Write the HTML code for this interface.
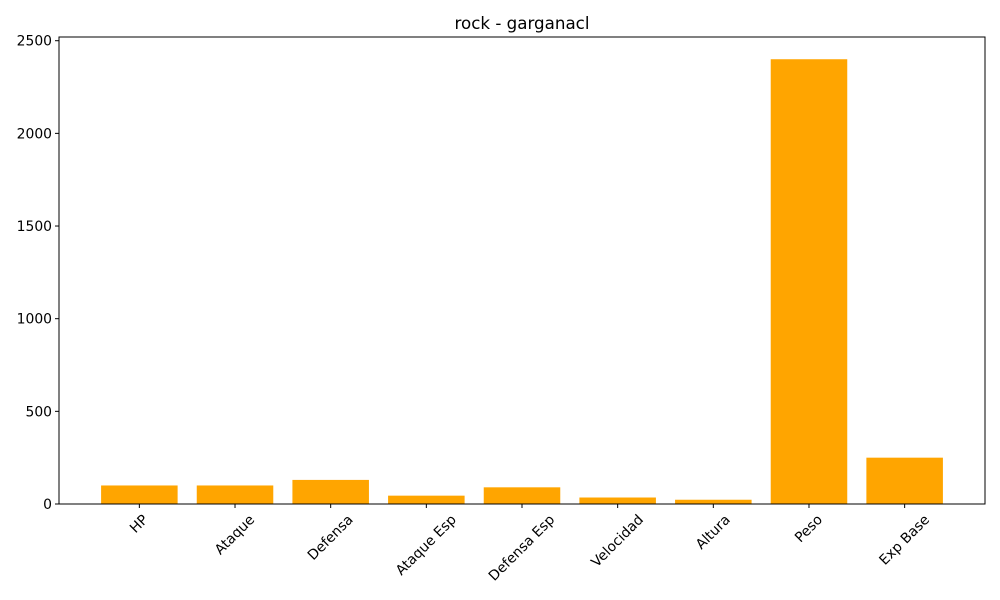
<!DOCTYPE html>
<html><head><meta charset="utf-8"><style>
body{margin:0;background:#fff;}
svg{display:block;font-family:"DejaVu Sans","Liberation Sans",sans-serif;}
</style></head><body>
<svg id="chart" width="1000" height="600">
<rect width="1000" height="600" fill="#fff"/>
<text x="522" y="29" font-size="16.7" text-anchor="middle">rock - garganacl</text>
<g id="bars"></g><g id="axes"></g>
</svg>
<script>
const categories=["HP","Ataque","Defensa","Ataque Esp","Defensa Esp","Velocidad","Altura","Peso","Exp Base"];
const values=[100,100,130,45,90,35,23,2400,250];
const yTicks=[0,500,1000,1500,2000,2500];
const L=59,R=985,T=37,B=504;
const yMax=Math.max(...values)*1.05;
const y=v=>B-(v/yMax)*(B-T);
const n=categories.length;
const xMin=-0.4-(n-1+0.8)*0.05, xMaxv=n-1+0.4+(n-1+0.8)*0.05;
const x=i=>L+(i-xMin)/(xMaxv-xMin)*(R-L);
const bw=0.8*(R-L)/(xMaxv-xMin);
const NS="http://www.w3.org/2000/svg";
const bars=document.getElementById('bars'),axes=document.getElementById('axes');
function mk(t,a,p){const e=document.createElementNS(NS,t);for(const k in a)e.setAttribute(k,a[k]);p.appendChild(e);return e;}
values.forEach((v,i)=>{
 const r=mk('rect',{x:x(i)-bw/2,y:y(v),width:bw,height:B-y(v),fill:'#ffa500'},bars);
 
 
 mk('line',{x1:x(i),x2:x(i),y1:B,y2:B+4,stroke:'#000'},axes);
 const t=mk('text',{x:0,y:0,'font-size':13.9,'text-anchor':'middle','dominant-baseline':'central'},axes);
 t.textContent=categories[i];
 
 
 const w=t.getComputedTextLength(), h=13;
 const bh=(w+h)*0.7071;
 t.setAttribute('transform',`translate(${x(i)},${B+9+bh/2}) rotate(-45)`);
});
yTicks.forEach(v=>{
 mk('line',{x1:L-4,x2:L,y1:y(v),y2:y(v),stroke:'#000'},axes);
 const t=mk('text',{x:L-7,y:y(v)+5,'font-size':13.9,'text-anchor':'end'},axes);
 t.textContent=v;
 
 
});
const f=mk('rect',{x:L,y:T,width:R-L,height:B-T,fill:'none',stroke:'#000','stroke-width':1},axes);


</script>
</body></html>
